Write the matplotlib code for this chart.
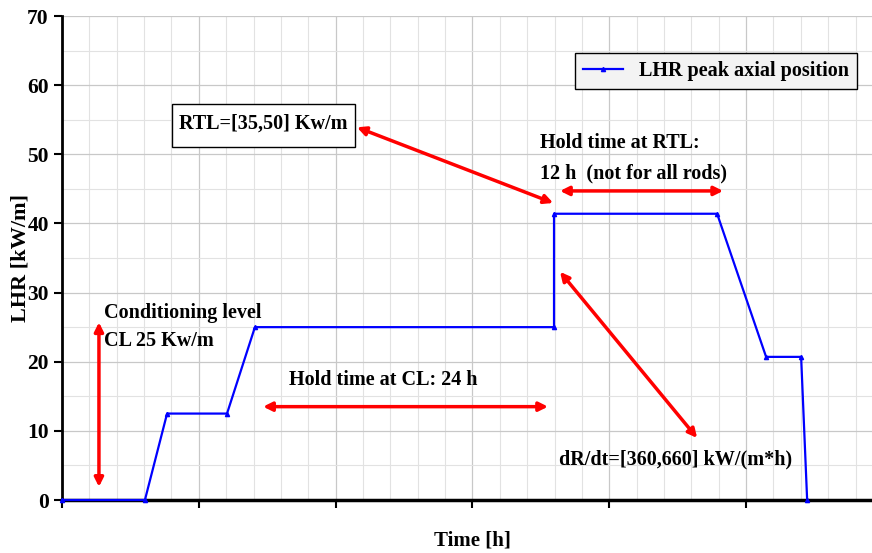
import matplotlib.pyplot as plt
from matplotlib.patches import Rectangle
import numpy as np

plt.rcParams['font.family'] = ['Liberation Serif', 'DejaVu Serif']
plt.rcParams['font.weight'] = 'bold'

# power history at the peak axial position
time_h = [0.0, 3.03, 3.84, 6.03, 7.05, 17.98, 17.98, 23.94, 25.73, 27.01, 27.23]
lhr_kw_m = [0.0, 0.0, 12.5, 12.5, 25.0, 25.0, 41.4, 41.4, 20.7, 20.7, 0.0]

y_ticks = [0, 10, 20, 30, 40, 50, 60, 70]
x_major = [0, 5, 10, 15, 20, 25]

W, H = 872, 553
fig = plt.figure(figsize=(W / 100, H / 100), dpi=100)
ax = fig.add_axes([62 / W, 53 / H, 810 / W, 484 / H])

ax.set_xlim(0, 29.6)
ax.set_ylim(0, 70)
ax.set_yticks(y_ticks)
ax.set_xticks(x_major)
ax.set_xticklabels([])
ax.set_xticks(np.arange(0, 30, 1), minor=True)
ax.set_yticks(np.arange(0, 71, 5), minor=True)
ax.grid(True, which='major', color='#c8c8c8', lw=0.9)
ax.grid(True, which='minor', color='#e2e2e2', lw=0.8)
ax.set_axisbelow(True)
ax.tick_params(axis='both', which='major', direction='out', length=6, width=1.5,
               labelsize=15.5)
ax.tick_params(axis='both', which='minor', length=0)
for lbl in ax.get_yticklabels():
    lbl.set_fontweight('bold')
for s in ['top', 'right']:
    ax.spines[s].set_visible(False)
ax.spines['left'].set_linewidth(2)
ax.spines['bottom'].set_linewidth(2.5)

ax.plot(time_h, lhr_kw_m, color='#0000ff', lw=1.6, marker='^', ms=3,
        label='LHR peak axial position', clip_on=False, zorder=5)

# axis titles
fig.text(21 / W, 1 - 258 / H, 'LHR [kW/m]', rotation=90, fontsize=16,
         fontweight='bold', ha='center', va='center')
fig.text(472 / W, 1 - 540 / H, 'Time [h]', fontsize=15, fontweight='bold',
         ha='center', va='center')

leg = ax.legend(loc='center', bbox_to_anchor=(716 / W, 1 - 71 / H),
                bbox_transform=fig.transFigure, fontsize=14.5, fancybox=False,
                edgecolor='black', facecolor='#f3f3f3', framealpha=1,
                handlelength=2.0, borderpad=0.4)
leg.get_frame().set_linewidth(1.0)
for t in leg.get_texts():
    t.set_fontweight('bold')


def red_arrow(p0, p1):
    ax.annotate('', xy=p1, xytext=p0,
                arrowprops=dict(arrowstyle='<|-|>', color='red', lw=2.5,
                                mutation_scale=13, shrinkA=0, shrinkB=0))


red_arrow((1.35, 1.9), (1.35, 25.7))
red_arrow((7.35, 13.5), (17.76, 13.5))
red_arrow((10.78, 53.9), (17.95, 42.96))
red_arrow((18.2, 44.7), (24.16, 44.7))
red_arrow((18.2, 33.0), (23.21, 8.97))

# boxed RTL note
ax.add_patch(Rectangle((4.02, 51.06), 6.69, 6.21, fc='white', ec='black',
                       lw=1.0, zorder=4))
ax.text(7.35, 54.4, 'RTL=[35,50] Kw/m', fontsize=14.5, fontweight='bold',
        va='center', ha='center', zorder=6)

txt = dict(fontsize=14.5, fontweight='bold', va='center', ha='left')
ax.text(17.47, 51.6, 'Hold time at RTL:', **txt)
ax.text(17.47, 47.2, '12 h  (not for all rods)', **txt)
ax.text(8.3, 17.4, 'Hold time at CL: 24 h', **txt)
ax.text(18.16, 5.9, 'dR/dt=[360,660] kW/(m*h)', **txt)
ax.text(1.53, 27.0, 'Conditioning level', **txt)
ax.text(1.53, 23.0, 'CL 25 Kw/m', **txt)

fig.savefig('out.png', dpi=100)
